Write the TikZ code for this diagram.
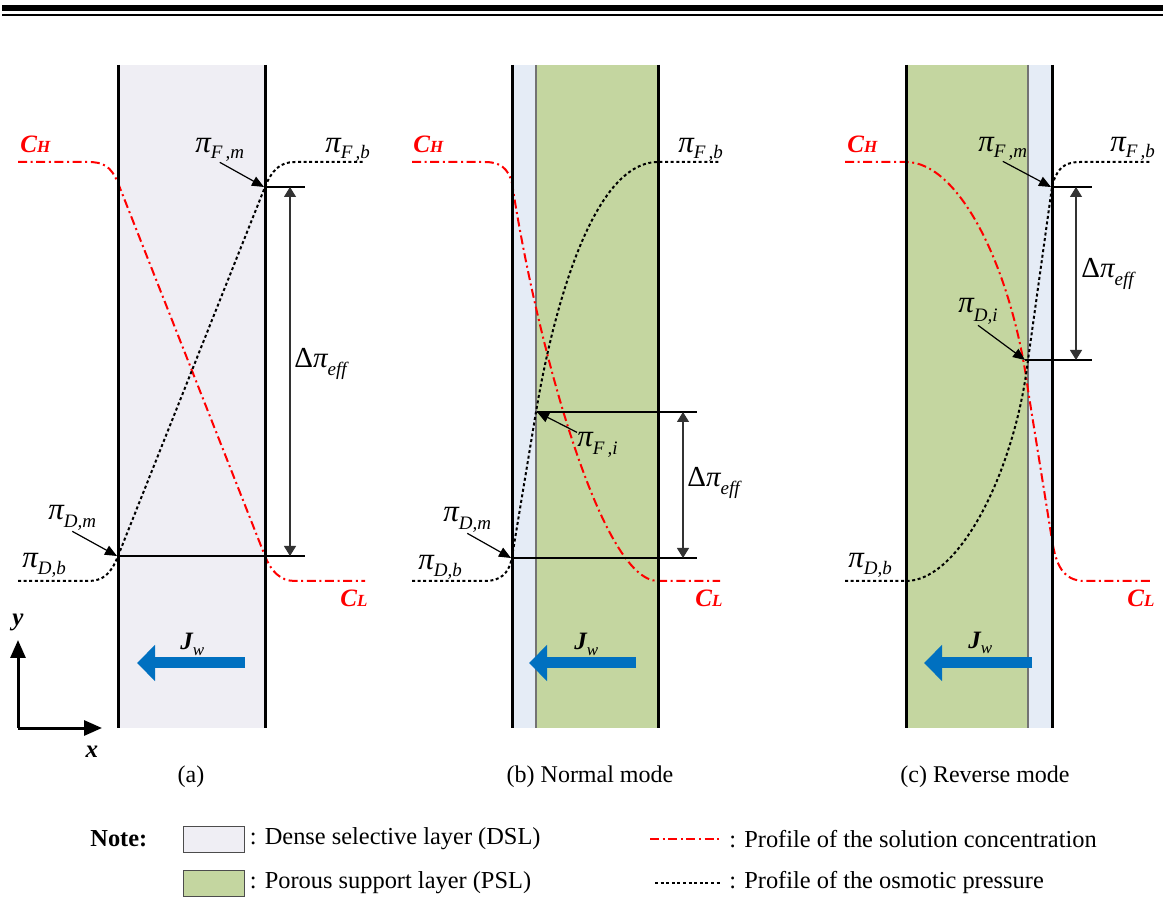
\documentclass[tikz,border=0pt]{standalone}
\usepackage{fontspec}
\setmainfont{Liberation Serif}
\usepackage{tikz}
\usetikzlibrary{arrows.meta, positioning, calc}
\definecolor{dslgray}{HTML}{EFEEF4}
\definecolor{dslblue}{HTML}{E5ECF6}
\definecolor{pslgreen}{HTML}{C4D6A0}
\definecolor{fluxblue}{HTML}{0070C0}
\newcommand{\pisub}[2]{{\fontsize{15.5}{17}\selectfont\itshape π}\raisebox{#2}{\fontsize{9.5}{11}\selectfont\itshape #1}}
\newcommand{\dpieff}{{\fontsize{14.5}{17}\selectfont Δ\itshape π}\raisebox{-4pt}{\fontsize{9.5}{11}\selectfont\itshape eff}}
\newcommand{\cnc}[1]{{\bfseries\itshape C\fontsize{8.5}{10}\selectfont #1}}
\newcommand{\jflux}{{\bfseries\itshape J}\raisebox{-2.5pt}{\fontsize{8.5}{10}\selectfont\itshape w}}
\tikzset{
    wall/.style={line width=1.5pt},
    seam/.style={line width=0.6pt, draw=black!55},
    conc/.style={red, line width=1pt, dash pattern=on 4.5pt off 1.8pt on 1pt off 1.8pt},
    osmo/.style={black, line width=1pt, dash pattern=on 1.5pt off 1.3pt},
    guide/.style={line width=0.6pt},
    dimarrow/.style={{Triangle[length=5pt,width=6pt]}-{Triangle[length=5pt,width=6pt]}, line width=0.6pt, black!80},
    pointer/.style={-{Triangle[length=6pt,width=5pt]}, line width=0.6pt},
    fluxarrow/.style={-{Triangle[length=9pt,width=17.5pt]}, line width=5.5pt, fluxblue},
    axisarrow/.style={-{Triangle[length=9pt,width=7.5pt]}, line width=1.5pt},
    lbl/.style={inner sep=0pt, anchor=base west, font=\fontsize{12.5}{14}\selectfont},
    capt/.style={inner sep=0pt, font=\fontsize{12}{14}\selectfont},
    legbox/.style={draw=black!70, line width=0.5pt, minimum width=30.5pt, minimum height=13pt, inner sep=0pt},
    legtxt/.style={inner sep=0pt, anchor=west, font=\fontsize{12.2}{15}\selectfont},
}

\begin{document}
\begin{tikzpicture}[x=0.5pt, y=-0.5pt]
        \useasboundingbox (0,0) rectangle (1163,898);
        % Header rules
        \fill (2,5) rectangle (1163,11.5);
        \fill (2,14) rectangle (1163,16.5);

        % (a) layers
        \fill[dslgray] (118,65) rectangle (265,728);
        % (b) layers
        \fill[dslblue] (512,65) rectangle (536,728);
        \fill[pslgreen] (536,65) rectangle (658,728);
        \draw[seam] (536,65) -- (536,728);
        % (c) layers
        \fill[pslgreen] (906,65) rectangle (1028,728);
        \fill[dslblue] (1028,65) rectangle (1052,728);
        \draw[seam] (1028,65) -- (1028,728);

        % Profiles
        \draw[conc] (18,162) -- (88,162) .. controls (103,162) and (111,166) .. (118,183) -- (265,556)
            .. controls (271,571) and (280,581) .. (295,581) -- (365,581);
        \draw[osmo] (18,581) -- (88,581) .. controls (103,581) and (111,574) .. (118,556) -- (265,187)
            .. controls (272,170) and (280,162) .. (295,162) -- (365,162);
        \draw[conc] (412,162) -- (485,162) .. controls (500,162) and (508,168) .. (512,183)
            .. controls (535,335) and (600,581) .. (658,581) -- (720,581);
        \draw[osmo] (412,581) -- (485,581) .. controls (500,581) and (509,574) .. (512,557) -- (536,412)
            .. controls (551,322) and (590,162) .. (658,162) -- (720,162);
        \draw[conc] (845,162) -- (906,162) .. controls (960,162) and (1012,270) .. (1028,390) -- (1052,540)
            .. controls (1056,565) and (1063,581) .. (1085,581) -- (1150,581);
        \draw[osmo] (845,581) -- (906,581) .. controls (960,581) and (1015,470) .. (1028,360) -- (1052,187)
            .. controls (1056,170) and (1063,162) .. (1080,162) -- (1150,162);

        % Key points
        \coordinate (Fm_a) at (264,187);
        \coordinate (Dm_a) at (117,556);
        \coordinate (Fi_b) at (537,412);
        \coordinate (Dm_b) at (511,558);
        \coordinate (Fm_c) at (1051,187);
        \coordinate (Di_c) at (1025,360);

        % Guides and dimensions
        \draw[guide] (Fm_a) -- (305,187);
        \draw[guide] (Dm_a) -- (305,556);
        \draw[dimarrow] (290,187) -- (290,556);
        \draw[guide] (Fi_b) -- (697,412);
        \draw[guide] (Dm_b) -- (697,558);
        \draw[dimarrow] (683,412) -- (683,558);
        \draw[guide] (Fm_c) -- (1092,187);
        \draw[guide] (Di_c) -- (1092,360);
        \draw[dimarrow] (1076,187) -- (1076,360);

        % Walls
        \draw[wall] (118,65) -- (118,728);
        \draw[wall] (265,65) -- (265,728);
        \draw[wall] (512,65) -- (512,728);
        \draw[wall] (658,65) -- (658,728);
        \draw[wall] (906,65) -- (906,728);
        \draw[wall] (1052,65) -- (1052,728);

        % Labels (a)
        \node[lbl, red] (CH_a) at (20,153) {\cnc{H}};
        \node[lbl, red] (CL_a) at (340,607) {\cnc{L}};
        \node[lbl] (fma) at (195,153) {\pisub{F\,,m}{-3pt}};
        \node[lbl] (fba) at (325,153) {\pisub{F\,,b}{-3pt}};
        \node[lbl] (dma) at (48,520) {\pisub{D,m}{-4pt}};
        \node[lbl] (dba) at (22,568) {\pisub{D,b}{-3.5pt}};
        \node[lbl] (effa) at (294,368) {\dpieff};
        \node[lbl] (Jw_a) at (180,650) {\jflux};
        \node[capt] (cap_a) at (191,777) {(a)};
        % Labels (b)
        \node[lbl, red] (CH_b) at (413,153) {\cnc{H}};
        \node[lbl, red] (CL_b) at (695,607) {\cnc{L}};
        \node[lbl] (fbb) at (678,153) {\pisub{F\,,b}{-3pt}};
        \node[lbl] (fib) at (577,447) {\pisub{F\,,i}{-4pt}};
        \node[lbl] (effb) at (687,487) {\dpieff};
        \node[lbl] (dmb) at (443,522) {\pisub{D,m}{-4pt}};
        \node[lbl] (dbb) at (418,570) {\pisub{D,b}{-3.5pt}};
        \node[lbl] (Jw_b) at (574,650) {\jflux};
        \node[capt] (cap_b) at (590,777) {(b) Normal mode};
        % Labels (c)
        \node[lbl, red] (CH_c) at (847,153) {\cnc{H}};
        \node[lbl, red] (CL_c) at (1127,607) {\cnc{L}};
        \node[lbl] (fmc) at (978,152) {\pisub{F\,,m}{-3pt}};
        \node[lbl] (fbc) at (1110,152) {\pisub{F\,,b}{-3pt}};
        \node[lbl] (effc) at (1081,278) {\dpieff};
        \node[lbl] (dic) at (958,313) {\pisub{D,i}{-4.5pt}};
        \node[lbl] (dbc) at (848,568) {\pisub{D,b}{-3pt}};
        \node[lbl] (Jw_c) at (968,648) {\jflux};
        \node[capt] (cap_c) at (985,777) {(c) Reverse mode};

        % Pointers
        \draw[pointer] (fma.south) -- (Fm_a);
        \draw[pointer] (dma.south) -- (Dm_a);
        \draw[pointer] (fib.north west) -- (Fi_b);
        \draw[pointer] (dmb.south) -- (Dm_b);
        \draw[pointer] (fmc.south) -- (Fm_c);
        \draw[pointer] (dic.south) -- (Di_c);

        % Water flux
        \coordinate (Jt_a) at (245,663);
        \coordinate (Jh_a) at (137,663);
        \coordinate (Jt_b) at (636,663);
        \coordinate (Jh_b) at (529,663);
        \coordinate (Jt_c) at (1032,663);
        \coordinate (Jh_c) at (924,663);
        \draw[fluxarrow] (Jt_a) -- (Jh_a);
        \draw[fluxarrow] (Jt_b) -- (Jh_b);
        \draw[fluxarrow] (Jt_c) -- (Jh_c);

        % Axes
        \coordinate (org) at (18,728);
        \coordinate (ytip) at (18,640);
        \coordinate (xtip) at (102,728);
        \draw[axisarrow] (org) -- (ytip);
        \draw[axisarrow] (org) -- (xtip);
        \node[capt, font=\fontsize{12.5}{14}\selectfont\bfseries\itshape] (ylab) at (18,622) {y};
        \node[capt, font=\fontsize{12.5}{14}\selectfont\bfseries\itshape] (xlab) at (92,752) {x};

        % Legend
        \node[lbl, font=\fontsize{12.2}{15}\selectfont\bfseries] (note) at (90,846) {Note:};
        \node[legbox, fill=dslgray] (keyDSL) at (213.5,839) {};
        \node[legtxt, right=2.5pt of keyDSL] (txtDSL) {: Dense selective layer (DSL)};
        \node[legbox, fill=pslgreen] (keyPSL) at (213.5,883) {};
        \node[legtxt, right=2.5pt of keyPSL] (txtPSL) {: Porous support layer (PSL)};
        \coordinate (keyC0) at (650,839);
        \coordinate (keyC1) at (721,839);
        \coordinate (keyO0) at (655,883);
        \coordinate (keyO1) at (721,883);
        \draw[conc] (keyC0) -- (keyC1);
        \draw[osmo] (keyO0) -- (keyO1);
        \node[legtxt, right=4pt of keyC1] (txtC) {: Profile of the solution concentration};
        \node[legtxt, right=4pt of keyO1] (txtO) {: Profile of the osmotic pressure};
\end{tikzpicture}
\end{document}
